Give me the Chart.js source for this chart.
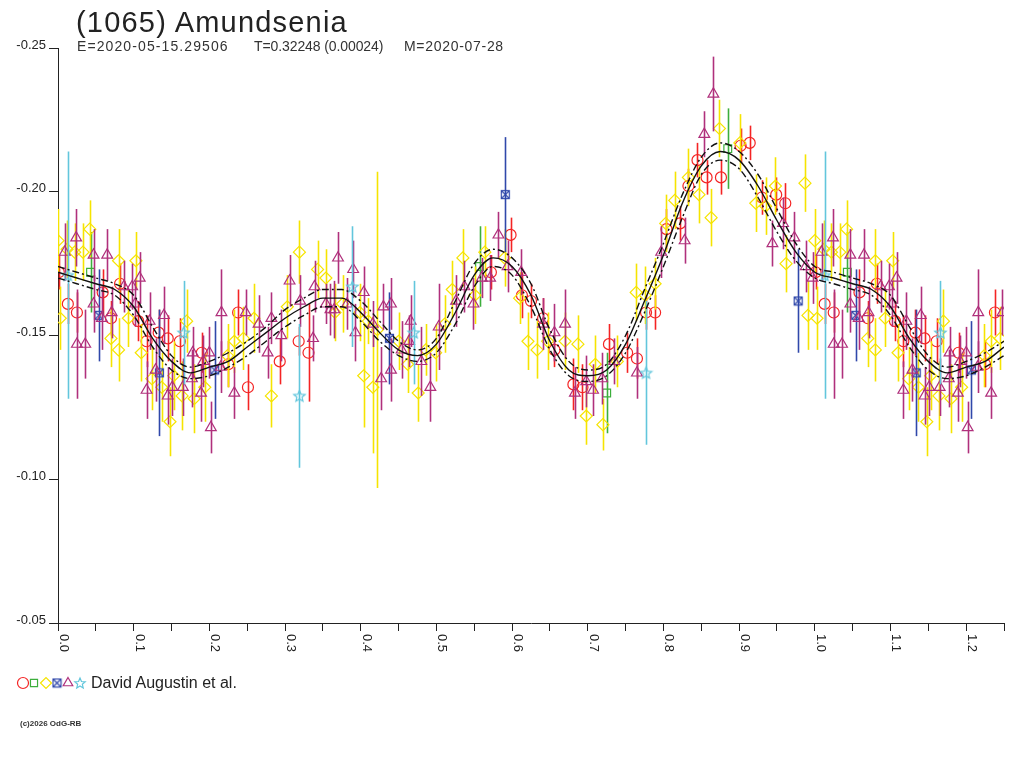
<!DOCTYPE html>
<html>
<head>
<meta charset="utf-8">
<script src="https://cdn.jsdelivr.net/npm/chart.js@4.4.1/dist/chart.umd.min.js"></script>
<style>
  html, body { margin:0; padding:0; background:#fff; }
  #wrap { position:relative; width:1024px; height:768px; overflow:hidden; font-family:"Liberation Sans", Arial, sans-serif; }
  #c { position:absolute; left:0; top:0; }
  .t { position:absolute; white-space:pre; color:#222; }
</style>
</head>
<body>
<div id="wrap">
  <canvas id="c" width="1024" height="768"></canvas>
  <div class="t" style="left:76px;top:6px;font-size:29px;letter-spacing:1.2px;">(1065) Amundsenia</div>
  <div class="t" style="left:77px;top:38px;font-size:14px;letter-spacing:1.1px;color:#333;">E=2020-05-15.29506</div>
  <div class="t" style="left:254px;top:38px;font-size:14px;letter-spacing:-0.1px;color:#333;">T=0.32248 (0.00024)</div>
  <div class="t" style="left:404px;top:38px;font-size:14px;letter-spacing:0.7px;color:#333;">M=2020-07-28</div>
  <div class="t" style="left:91px;top:674px;font-size:16px;color:#222;">David Augustin et al.</div>
  <div class="t" style="left:20px;top:719px;font-size:8px;font-weight:bold;color:#333;">(c)2026 OdG-RB</div>
</div>
<script>
// ---------- DATA ----------
const xTickLabels = [0.0,0.1,0.2,0.3,0.4,0.5,0.6,0.7,0.8,0.9,1.0,1.1,1.2];
const yTickLabels = [-0.25,-0.20,-0.15,-0.10,-0.05];

// fitted curve (phase 0..1, step 0.025)
const curvePhase = [0.000,0.025,0.050,0.075,0.100,0.125,0.150,0.175,0.200,0.225,0.250,0.275,0.300,0.325,0.350,0.375,0.400,0.425,0.450,0.475,0.500,0.525,0.550,0.575,0.600,0.625,0.650,0.675,0.700,0.725,0.750,0.775,0.800,0.825,0.850,0.875,0.900,0.925,0.950,0.975,1.000];
const curveMag   = [-0.172,-0.170,-0.168,-0.166,-0.160,-0.149,-0.141,-0.137,-0.139,-0.141,-0.146,-0.151,-0.156,-0.160,-0.163,-0.163,-0.158,-0.151,-0.145,-0.143,-0.147,-0.158,-0.171,-0.177,-0.174,-0.164,-0.148,-0.138,-0.136,-0.138,-0.147,-0.162,-0.178,-0.196,-0.209,-0.214,-0.211,-0.202,-0.190,-0.179,-0.172];
const curveUpper = [-0.174,-0.172,-0.170,-0.168,-0.164,-0.153,-0.143,-0.139,-0.141,-0.144,-0.148,-0.153,-0.159,-0.163,-0.166,-0.166,-0.162,-0.155,-0.148,-0.145,-0.149,-0.162,-0.175,-0.180,-0.177,-0.168,-0.152,-0.141,-0.138,-0.140,-0.150,-0.166,-0.182,-0.199,-0.212,-0.217,-0.214,-0.206,-0.194,-0.182,-0.174];
const curveLower = [-0.170,-0.168,-0.166,-0.164,-0.157,-0.146,-0.138,-0.135,-0.136,-0.139,-0.143,-0.148,-0.153,-0.157,-0.160,-0.160,-0.155,-0.148,-0.143,-0.141,-0.144,-0.154,-0.167,-0.174,-0.171,-0.160,-0.145,-0.136,-0.134,-0.136,-0.144,-0.158,-0.174,-0.191,-0.206,-0.211,-0.208,-0.198,-0.186,-0.176,-0.170];

// observations: phase, relative magnitude, error
const redPhase = [0.001,0.013,0.025,0.059,0.070,0.082,0.106,0.117,0.133,0.145,0.161,0.190,0.225,0.238,0.251,0.293,0.318,0.331,0.572,0.598,0.613,0.625,0.641,0.656,0.681,0.693,0.728,0.752,0.765,0.777,0.789,0.804,0.822,0.833,0.845,0.857,0.876,0.902,0.914,0.930,0.949,0.961];
const redMag   = [-0.172,-0.161,-0.158,-0.165,-0.156,-0.168,-0.155,-0.148,-0.151,-0.149,-0.148,-0.144,-0.140,-0.158,-0.132,-0.141,-0.148,-0.144,-0.172,-0.185,-0.164,-0.162,-0.156,-0.145,-0.133,-0.132,-0.147,-0.144,-0.142,-0.158,-0.158,-0.187,-0.189,-0.202,-0.211,-0.205,-0.205,-0.216,-0.217,-0.198,-0.199,-0.196];
const redErr   = [0.006,0.007,0.007,0.008,0.006,0.007,0.007,0.009,0.008,0.008,0.008,0.007,0.008,0.008,0.008,0.008,0.005,0.017,0.006,0.006,0.008,0.006,0.007,0.006,0.009,0.008,0.007,0.007,0.007,0.006,0.006,0.007,0.006,0.006,0.006,0.006,0.006,0.006,0.006,0.006,0.006,0.007];

const greenPhase = [0.043,0.557,0.725,0.885];
const greenMag   = [-0.172,-0.174,-0.130,-0.215];
const greenErr   = [0.014,0.014,0.014,0.014];

const yellowPhase = [0.000,0.003,0.012,0.022,0.033,0.042,0.070,0.080,0.080,0.093,
  0.103,0.110,0.124,0.137,0.148,0.153,0.164,0.170,0.180,0.194,
  0.224,0.233,0.245,0.259,0.282,0.303,0.319,0.343,0.354,0.366,
  0.376,0.399,0.404,0.410,0.416,0.422,0.450,0.462,0.476,0.486,
  0.499,0.511,0.521,0.535,0.551,0.564,0.590,0.610,0.621,0.633,
  0.647,0.670,0.687,0.698,0.710,0.720,0.739,0.764,0.776,0.789,
  0.803,0.815,0.833,0.847,0.863,0.874,0.901,0.922,0.935,0.948,
  0.962,0.987,0.991];
const yellowMag = [-0.183,-0.156,-0.180,-0.179,-0.179,-0.187,-0.149,-0.176,-0.145,-0.156,
  -0.176,-0.144,-0.135,-0.132,-0.120,-0.136,-0.129,-0.155,-0.128,-0.132,
  -0.143,-0.148,-0.149,-0.156,-0.129,-0.160,-0.179,-0.173,-0.170,-0.158,
  -0.161,-0.158,-0.136,-0.155,-0.132,-0.152,-0.148,-0.140,-0.130,-0.145,
  -0.144,-0.154,-0.166,-0.177,-0.164,-0.179,-0.177,-0.163,-0.148,-0.145,
  -0.148,-0.148,-0.147,-0.122,-0.140,-0.119,-0.141,-0.165,-0.164,-0.168,
  -0.189,-0.197,-0.205,-0.199,-0.191,-0.222,-0.217,-0.196,-0.195,-0.202,
  -0.175,-0.203,-0.157];
const yellowErr = [0.011,0.011,0.010,0.010,0.010,0.010,0.010,0.011,0.011,0.010,
  0.010,0.010,0.011,0.012,0.012,0.012,0.012,0.011,0.012,0.012,
  0.011,0.011,0.011,0.012,0.011,0.011,0.011,0.010,0.010,0.010,
  0.010,0.010,0.018,0.008,0.023,0.055,0.010,0.010,0.010,0.009,
  0.010,0.010,0.010,0.010,0.010,0.009,0.010,0.009,0.010,0.010,
  0.010,0.010,0.010,0.010,0.010,0.009,0.009,0.010,0.010,0.009,
  0.010,0.010,0.010,0.010,0.010,0.010,0.010,0.010,0.010,0.010,
  0.010,0.010,0.012];

const bluePhase = [0.054,0.134,0.207,0.438,0.591,0.978];
const blueMag   = [-0.157,-0.137,-0.138,-0.149,-0.199,-0.162];
const blueErr   = [0.016,0.022,0.017,0.016,0.020,0.018];

const purplePhase = [0.009,0.024,0.025,0.036,0.047,0.047,0.058,0.065,0.071,0.087,
  0.098,0.102,0.108,0.117,0.121,0.129,0.140,0.145,0.151,0.165,
  0.177,0.178,0.189,0.192,0.200,0.202,0.215,0.216,0.233,0.248,
  0.265,0.277,0.282,0.295,0.306,0.320,0.337,0.339,0.354,0.360,
  0.365,0.370,0.382,0.390,0.393,0.404,0.416,0.427,0.430,0.440,
  0.440,0.454,0.464,0.466,0.480,0.492,0.503,0.526,0.537,0.549,
  0.560,0.571,0.582,0.594,0.612,0.641,0.656,0.670,0.683,0.698,
  0.707,0.719,0.735,0.765,0.797,0.828,0.854,0.866,0.944,0.958,
  0.973,0.988,0.997];
const purpleMag = [-0.179,-0.184,-0.147,-0.147,-0.178,-0.161,-0.156,-0.178,-0.158,-0.167,
  -0.167,-0.161,-0.170,-0.131,-0.155,-0.138,-0.157,-0.129,-0.132,-0.132,
  -0.135,-0.144,-0.130,-0.141,-0.144,-0.118,-0.139,-0.158,-0.130,-0.158,
  -0.154,-0.144,-0.156,-0.150,-0.169,-0.162,-0.149,-0.167,-0.161,-0.159,
  -0.159,-0.177,-0.161,-0.173,-0.151,-0.165,-0.154,-0.135,-0.160,-0.138,
  -0.161,-0.145,-0.148,-0.155,-0.141,-0.132,-0.153,-0.162,-0.167,-0.161,
  -0.170,-0.170,-0.185,-0.174,-0.172,-0.154,-0.151,-0.154,-0.130,-0.134,
  -0.131,-0.135,-0.141,-0.137,-0.179,-0.183,-0.220,-0.234,-0.182,-0.189,
  -0.184,-0.174,-0.170];
const purpleErr = [0.010,0.010,0.019,0.012,0.009,0.010,0.011,0.009,0.009,0.009,
  0.008,0.008,0.009,0.010,0.010,0.011,0.010,0.010,0.010,0.010,
  0.010,0.009,0.010,0.009,0.009,0.009,0.009,0.015,0.009,0.008,
  0.010,0.009,0.009,0.009,0.009,0.009,0.008,0.009,0.007,0.009,
  0.010,0.009,0.009,0.010,0.010,0.009,0.008,0.011,0.008,0.011,
  0.009,0.010,0.009,0.009,0.012,0.012,0.015,0.009,0.009,0.009,
  0.007,0.008,0.008,0.009,0.008,0.009,0.010,0.012,0.009,0.009,
  0.009,0.009,0.008,0.009,0.009,0.008,0.008,0.013,0.008,0.009,
  0.009,0.009,0.009];

const cyanPhase = [0.013,0.166,0.319,0.389,0.470,0.777];
const cyanMag   = [-0.171,-0.151,-0.129,-0.167,-0.151,-0.137];
const cyanErr   = [0.043,0.018,0.025,0.021,0.018,0.025];

// ---------- BUILD ----------
const X_MAX = 1.25;
function wrapPoints(phase, mag, err) {
  const pts = [], errs = [];
  phase.forEach((p, i) => {
    pts.push({x: p, y: mag[i]}); errs.push(err[i]);
    if (p + 1 <= X_MAX) { pts.push({x: p + 1, y: mag[i]}); errs.push(err[i]); }
  });
  return {pts, errs};
}
function wrapCurve(phase, mag) {
  const pts = phase.map((p, i) => ({x: p, y: mag[i]}));
  phase.forEach((p, i) => { if (p > 0 && p + 1 <= X_MAX + 1e-9) pts.push({x: p + 1, y: mag[i]}); });
  return pts;
}

function makeBlueSymbol(color) {
  const c = document.createElement('canvas'); c.width = 11; c.height = 11;
  const g = c.getContext('2d'); g.strokeStyle = color; g.lineWidth = 1.2;
  g.strokeRect(1.5, 1.5, 8, 8);
  g.beginPath(); g.moveTo(1.5, 1.5); g.lineTo(9.5, 9.5); g.moveTo(9.5, 1.5); g.lineTo(1.5, 9.5); g.stroke();
  return c;
}
function makeStar(color, R) {
  const s = Math.ceil(R * 2 + 3);
  const c = document.createElement('canvas'); c.width = s; c.height = s;
  const g = c.getContext('2d'); g.strokeStyle = color; g.lineWidth = 1.2;
  const cx = s / 2, cy = s / 2 + 0.5, r2 = R * 0.45;
  g.beginPath();
  for (let k = 0; k < 10; k++) {
    const a = -Math.PI / 2 + k * Math.PI / 5;
    const r = (k % 2 === 0) ? R : r2;
    const px = cx + r * Math.cos(a), py = cy + r * Math.sin(a);
    if (k === 0) g.moveTo(px, py); else g.lineTo(px, py);
  }
  g.closePath(); g.stroke();
  return c;
}

const COL = { red:'#f42424', green:'#3cae3c', yellow:'#f6e400', blue:'#3048aa', purple:'#b0307c', cyan:'#62c6dc' };
const blueImg = makeBlueSymbol(COL.blue);
const starImg = makeStar(COL.cyan, 6);
const starImgSmall = makeStar(COL.cyan, 5.5);

function pointDs(label, phase, mag, err, color, style, radius) {
  const w = wrapPoints(phase, mag, err);
  return {
    type: 'scatter', label, data: w.pts, errors: w.errs,
    borderColor: color, backgroundColor: 'rgba(0,0,0,0)',
    pointStyle: style, pointRadius: radius, pointBorderWidth: 1.2, pointHoverRadius: radius,
    showLine: false
  };
}
function lineDs(label, data, dash, width) {
  return {
    type: 'line', label, data, borderColor: '#111', borderWidth: width,
    borderDash: dash, pointRadius: 0, fill: false, cubicInterpolationMode: 'monotone', showLine: true
  };
}

const datasets = [
  lineDs('fit', wrapCurve(curvePhase, curveMag), [], 1.4),
  lineDs('fit+', wrapCurve(curvePhase, curveUpper), [7, 3, 2, 3], 1.4),
  lineDs('fit-', wrapCurve(curvePhase, curveLower), [7, 3, 2, 3], 1.4),
  pointDs('star', cyanPhase, cyanMag, cyanErr, COL.cyan, starImg, 6),
  pointDs('triangle', purplePhase, purpleMag, purpleErr, COL.purple, 'triangle', 6.2),
  pointDs('blue', bluePhase, blueMag, blueErr, COL.blue, blueImg, 5),
  pointDs('diamond', yellowPhase, yellowMag, yellowErr, COL.yellow, 'rectRot', 6),
  pointDs('square', greenPhase, greenMag, greenErr, COL.green, 'rect', 5.5),
  pointDs('circle', redPhase, redMag, redErr, COL.red, 'circle', 5.5)
];

const errorBars = {
  id: 'errorBars',
  beforeDatasetDraw(chart, args) {
    const ds = chart.data.datasets[args.index];
    if (!ds.errors) return;
    const ys = chart.scales.y, ctx = chart.ctx, a = chart.chartArea;
    ctx.save();
    ctx.beginPath(); ctx.rect(a.left, a.top, a.right - a.left, a.bottom - a.top); ctx.clip();
    ctx.strokeStyle = ds.borderColor; ctx.lineWidth = 1.6;
    args.meta.data.forEach((el, i) => {
      const v = ds.data[i].y, e = ds.errors[i];
      const x = Math.round(el.x) + 0.5;
      ctx.beginPath();
      ctx.moveTo(x, ys.getPixelForValue(v - e));
      ctx.lineTo(x, ys.getPixelForValue(v + e));
      ctx.stroke();
    });
    ctx.restore();
  }
};

const axisLabels = {
  id: 'axisLabels',
  afterDraw(chart) {
    const ctx = chart.ctx, xs = chart.scales.x, ys = chart.scales.y;
    ctx.save();
    ctx.fillStyle = '#222';
    ctx.font = '13px "Liberation Sans", Arial, sans-serif';
    ctx.textAlign = 'right'; ctx.textBaseline = 'alphabetic';
    yTickLabels.forEach(v => {
      const py = ys.getPixelForValue(v);
      ctx.fillText(v.toFixed(2), 46, py + 0.5);
    });
    xTickLabels.forEach(v => {
      const px = xs.getPixelForValue(v);
      ctx.save();
      ctx.translate(px - 1, xs.bottom + 3);
      ctx.rotate(Math.PI / 2);
      ctx.textAlign = 'left'; ctx.textBaseline = 'bottom';
      ctx.fillText(v.toFixed(1), 0, 0);
      ctx.restore();
    });
    const H = Chart.helpers;
    const items = [
      [COL.red, 'circle', 5.5, 23], [COL.green, 'rect', 5, 34], [COL.yellow, 'rectRot', 5.5, 46],
      [COL.blue, blueImg, 5, 57], [COL.purple, 'triangle', 5.5, 68], [COL.cyan, starImgSmall, 5.5, 80]
    ];
    items.forEach(([c, st, r, x]) => {
      ctx.strokeStyle = c; ctx.fillStyle = 'rgba(0,0,0,0)'; ctx.lineWidth = 1.2;
      H.drawPoint(ctx, {pointStyle: st, radius: r, rotation: 0, borderWidth: 1.2}, x, 683);
    });
    ctx.restore();
  }
};

new Chart(document.getElementById('c'), {
  type: 'scatter',
  data: { datasets },
  options: {
    responsive: false, animation: false, devicePixelRatio: 1,
    layout: { padding: { left: 49, right: 20, top: 48, bottom: 137 } },
    plugins: { legend: { display: false }, tooltip: { enabled: false }, title: { display: false } },
    scales: {
      x: {
        type: 'linear', min: 0, max: X_MAX,
        ticks: { display: false, stepSize: 0.05 },
        grid: { display: true, drawOnChartArea: false, drawTicks: true, tickLength: 8, color: '#222', lineWidth: 1 },
        border: { display: true, color: '#222', width: 1 }
      },
      y: {
        type: 'linear', min: -0.25, max: -0.05, reverse: true,
        ticks: { display: false, stepSize: 0.05 },
        grid: { display: true, drawOnChartArea: false, drawTicks: true, tickLength: 9, color: '#222', lineWidth: 1 },
        border: { display: true, color: '#222', width: 1 }
      }
    }
  },
  plugins: [errorBars, axisLabels]
});
</script>
</body>
</html>
